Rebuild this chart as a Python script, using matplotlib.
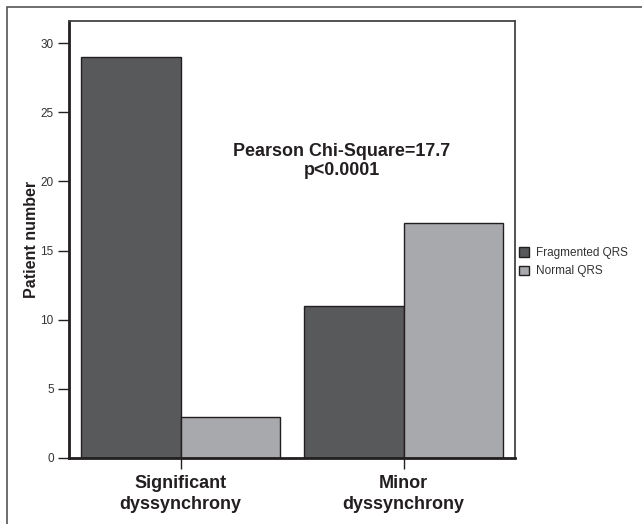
import matplotlib
matplotlib.use("Agg")
import matplotlib.pyplot as plt
import numpy as np
from matplotlib.patches import Rectangle

plt.rcParams['font.family'] = ['Liberation Sans', 'DejaVu Sans']

categories = ["Significant\ndyssynchrony", "Minor\ndyssynchrony"]
series_names = ["Fragmented QRS", "Normal QRS"]
fragmented = [29, 11]
normal = [3, 17]
yticks = [0, 5, 10, 15, 20, 25, 30]
annotation = "Pearson Chi-Square=17.7\np<0.0001"

dark = "#58595b"
light = "#a7a9ac"
edge = "#231f20"

fig = plt.figure(figsize=(6.42, 5.24), dpi=100)
W, H = 642, 524
ax = fig.add_axes([69 / W, 1 - 458 / H, (515 - 69) / W, (458 - 21) / H])

x = np.arange(len(categories))
bw = 0.448
ax.bar(x - bw / 2, fragmented, width=bw, color=dark, edgecolor=edge, linewidth=1.0, label=series_names[0])
ax.bar(x + bw / 2, normal, width=bw, color=light, edgecolor=edge, linewidth=1.0, label=series_names[1])

ax.set_xlim(-0.5, 1.5)
ax.set_ylim(0, 31.6)
ax.set_yticks(yticks)
ax.set_xticks(x)
ax.set_xticklabels(categories, fontsize=13, fontweight='bold', color='#231f20', linespacing=1.3)
ax.tick_params(axis='y', length=8, width=1, color='#231f20', labelsize=8.5, labelcolor='#333333', pad=3)
ax.tick_params(axis='x', length=8, width=1, color='#231f20', pad=4)
ax.set_ylabel("Patient number", fontsize=11.5, fontweight='bold', color='#231f20', labelpad=1)

for s in ['left', 'bottom']:
    ax.spines[s].set_linewidth(2.0)
    ax.spines[s].set_color('#231f20')
for s in ['top', 'right']:
    ax.spines[s].set_linewidth(1.3)
    ax.spines[s].set_color('#444444')

ax.text(0.612, 0.68, annotation, transform=ax.transAxes, ha='center', va='center',
        fontsize=12.9, fontweight='bold', color='#231f20', linespacing=1.2)

leg = fig.legend(loc='upper left', bbox_to_anchor=(519 / W, 1 - 247 / H), frameon=False,
                 fontsize=8.5, handlelength=0.85, handleheight=0.85, handletextpad=0.6,
                 labelspacing=0.55, borderaxespad=0, borderpad=0)
for h in leg.legend_handles:
    h.set_linewidth(1.0)
    h.set_edgecolor(edge)
for t in leg.get_texts():
    t.set_color('#333333')

# outer frame
fig.add_artist(Rectangle((7 / W, -0.05), 1.0, 1 - 7 / H + 0.05, transform=fig.transFigure,
                         fill=False, edgecolor='#555555', linewidth=1.2))

fig.savefig("out.png", dpi=100)
